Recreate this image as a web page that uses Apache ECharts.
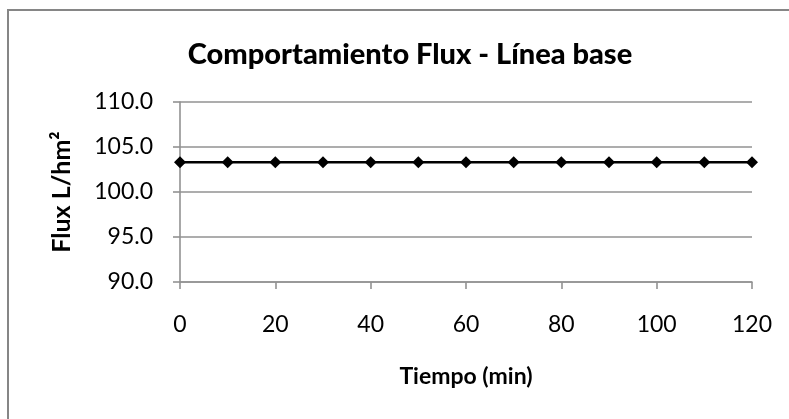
<!DOCTYPE html>
<html><head><meta charset="utf-8">
<script src="https://cdn.jsdelivr.net/npm/echarts@6/dist/echarts.min.js"></script>
<style>html,body{margin:0;padding:0;background:#fff}#c{width:789px;height:419px}</style>
</head><body><div id="c"></div>
<script>
const timeMin = [0, 10, 20, 30, 40, 50, 60, 70, 80, 90, 100, 110, 120];
const fluxValues = [103.3, 103.3, 103.3, 103.3, 103.3, 103.3, 103.3, 103.3, 103.3, 103.3, 103.3, 103.3, 103.3];
const titleText = 'Comportamiento Flux - Línea base';
const xAxisName = 'Tiempo (min)';
const yAxisName = 'Flux L/hm²';

const FONT = 'Lato';
const gridColor = '#929292';
const chart = echarts.init(document.getElementById('c'));
chart.setOption({
  animation: false,
  backgroundColor: '#fff',
  title: {
    text: titleText,
    left: 405, top: 35, textAlign: 'center',
    textStyle: { fontFamily: FONT, fontWeight: 900, fontSize: 29, color: '#000' }
  },
  graphic: [{
    type: 'rect', shape: { x: 8, y: 10, width: 900, height: 500 },
    style: { fill: 'none', stroke: '#868686', lineWidth: 2 }, silent: true
  }],
  grid: { left: 180, right: 37, top: 102, bottom: 137 },
  xAxis: {
    type: 'value', min: 0, max: 120, interval: 20,
    name: xAxisName, nameLocation: 'middle', nameGap: 83,
    nameTextStyle: { fontFamily: FONT, fontWeight: 'bold', fontSize: 23, color: '#000' },
    axisLine: { show: true, lineStyle: { color: gridColor, width: 1.6 } },
    axisTick: { show: true, length: 7, lineStyle: { color: gridColor, width: 1.6 } },
    splitLine: { show: false },
    axisLabel: { fontFamily: FONT, fontSize: 23, color: '#000', margin: 31 }
  },
  yAxis: {
    type: 'value', min: 90, max: 110, interval: 5,
    name: yAxisName, nameLocation: 'middle', nameGap: 106, nameRotate: 90,
    nameTextStyle: { fontFamily: FONT, fontWeight: 'bold', fontSize: 25, color: '#000' },
    axisLine: { show: true, lineStyle: { color: gridColor, width: 1.6 } },
    axisTick: { show: true, length: 7, lineStyle: { color: gridColor, width: 1.6 } },
    splitLine: { show: true, lineStyle: { color: gridColor, width: 1.6 } },
    axisLabel: { fontFamily: FONT, fontSize: 23, color: '#000', margin: 27,
      formatter: v => v.toFixed(1) }
  },
  series: [{
    type: 'line',
    data: timeMin.map((t, i) => [t, fluxValues[i]]),
    symbol: 'diamond', symbolSize: 12,
    itemStyle: { color: '#000' },
    lineStyle: { color: '#000', width: 2.5 }
  }]
});
</script></body></html>
